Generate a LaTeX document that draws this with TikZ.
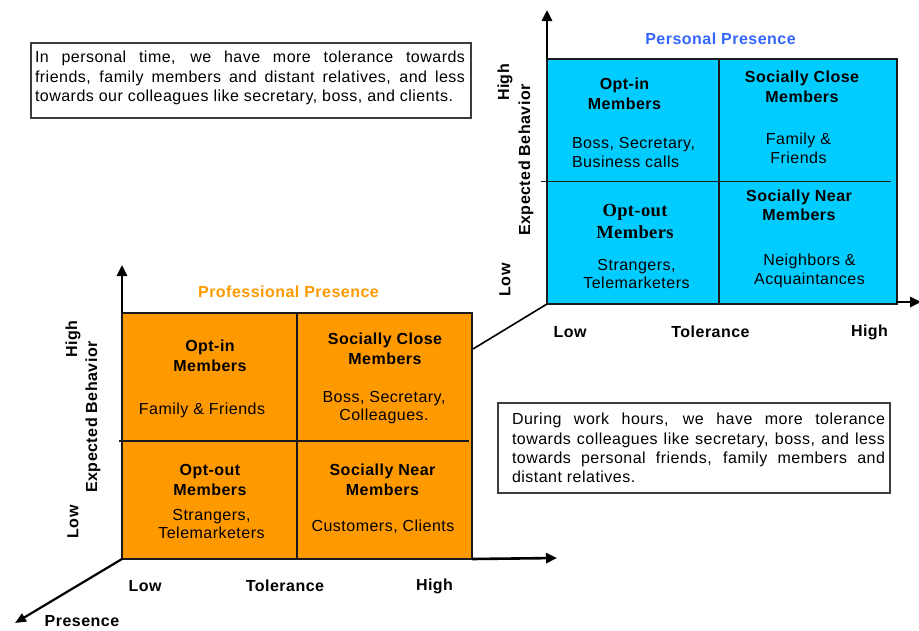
\documentclass[tikz,border=0pt]{standalone}
\usepackage{fontspec}
\setmainfont{Liberation Sans}[LetterSpace=3]
\newfontfamily\serifbold{Liberation Serif}[LetterSpace=2]
\usetikzlibrary{arrows.meta}
\definecolor{proorange}{HTML}{FF9900}
\definecolor{perblue}{HTML}{00CCFF}
\definecolor{pertitle}{HTML}{3366FF}
\definecolor{frame}{HTML}{1A1A1A}

\tikzset{
  quad/.style={draw=frame, line width=1.4pt, inner sep=0pt, outer sep=0pt,
    minimum width=350pt, anchor=north west},
  divider/.style={draw=frame, line width=1.1pt},
  axisline/.style={line width=2.6pt, -{Triangle[length=11pt,width=10pt]}},
  depthline/.style={line width=2.2pt, -{Triangle[length=11pt,width=9pt]}},
  linkline/.style={line width=1.6pt},
  head/.style={font=\fontsize{16}{19.5}\selectfont\bfseries, align=center, inner sep=0pt},
  body/.style={font=\fontsize{16}{18.5}\selectfont, align=center, inner sep=0pt},
  axlabel/.style={font=\fontsize{16}{19}\selectfont\bfseries, inner sep=0pt},
  title/.style={font=\fontsize{16}{19}\selectfont\bfseries, inner sep=0pt},
  note/.style={draw=frame!85, line width=1.1pt, inner sep=0pt, outer sep=0pt},
  notetext/.style={font=\fontsize{16}{19.3}\selectfont, align=justify, inner sep=0pt},
}

\begin{document}
\begin{tikzpicture}[x=1pt, y=-1pt]
\useasboundingbox (0,0) rectangle (919,630);

% ---------- Professional presence (front plane) ----------
\node[quad, fill=proorange, minimum height=246pt] (pro) at (122,313) {};
\draw[divider] (pro.north) -- (pro.south);
\draw[divider] (119,441) -- (469,441);

\coordinate (proUp) at (122,265);
\coordinate (proRight) at (557,558);
\coordinate (depthTip) at (15,623);
\draw[axisline] (pro.north west) -- (proUp);
\draw[axisline] (pro.south east) -- (proRight);
\draw[depthline] (pro.south west) -- (depthTip);

\node[title, text=proorange] (proTitle) at (288.5,292) {Professional Presence};

\node[axlabel, rotate=90] (proHigh) at (73,339) {High};
\node[axlabel, rotate=90] (proExp) at (93,417) {Expected Behavior};
\node[axlabel, rotate=90] (proLow) at (73,522) {Low};
\node[axlabel] (proTlow) at (145,586) {Low};
\node[axlabel] (proTol) at (285,586) {Tolerance};
\node[axlabel] (proThigh) at (434.5,586) {High};
\node[axlabel] (presence) at (82,621) {Presence};

\node[head] (proOptIn) at (210,356) {Opt-in\\Members};
\node[body] (proOptInB) at (202,410) {Family \& Friends};
\node[head] (proClose) at (385,349) {Socially Close\\Members};
\node[body] (proCloseB) at (384,407.5) {Boss, Secretary,\\Colleagues.};
\node[head] (proOptOut) at (210,480) {Opt-out\\Members};
\node[body] (proOptOutB) at (211.5,524) {Strangers,\\Telemarketers};
\node[head] (proNear) at (382.5,480) {Socially Near\\Members};
\node[body] (proNearB) at (383,526.5) {Customers, Clients};

% ---------- Personal presence (back plane) ----------
\node[quad, fill=perblue, minimum height=245pt] (per) at (547,59) {};
\draw[divider] (719,59) -- (719,304);
\draw[divider] (541,181.5) -- (891,181.5);

\coordinate (perUp) at (547,10);
\coordinate (perRight) at (921,302);
\coordinate (link) at (473,349);
\draw[axisline] (per.north west) -- (perUp);
\draw[axisline] (896,302) -- (perRight);
\draw[linkline] (link) -- (per.south west);

\node[title, text=pertitle] (perTitle) at (720.5,38.5) {Personal Presence};

\node[axlabel, rotate=90] (perHigh) at (505,82.5) {High};
\node[axlabel, rotate=90] (perExp) at (526,160) {Expected Behavior};
\node[axlabel, rotate=90] (perLow) at (505,280) {Low};
\node[axlabel] (perTlow) at (570,332) {Low};
\node[axlabel] (perTol) at (710.5,332) {Tolerance};
\node[axlabel] (perThigh) at (869.5,332) {High};

\node[head] (perOptIn) at (624.5,94) {Opt-in\\Members};
\node[body, align=left] (perOptInB) at (633.5,152.5) {Boss, Secretary,\\Business calls};
\node[head] (perClose) at (802,87) {Socially Close\\Members};
\node[body] (perCloseB) at (798.5,148.5) {Family \&\\Friends};
\node[head, font=\fontsize{18.5}{21.6}\selectfont\serifbold\bfseries] (perOptOut) at (635,221.5) {Opt-out\\Members};
\node[body] (perOptOutB) at (636.5,274) {Strangers,\\Telemarketers};
\node[head] (perNear) at (799,205.5) {Socially Near\\Members};
\node[body] (perNearB) at (809.5,271) {Neighbors \&\\Acquaintances};

% ---------- Explanatory notes ----------
\node[note, minimum width=440pt, minimum height=75pt, anchor=north west] (topNote) at (31,43) {};
\node[notetext, text width=430pt] (topText) at (250,78) {In personal time, we have more tolerance towards\linebreak
friends, family members and distant relatives, and less\linebreak
towards our colleagues like secretary, boss, and clients.};

\node[note, minimum width=392pt, minimum height=90pt, anchor=north west] (botNote) at (498,403) {};
\node[notetext, text width=373pt] (botText) at (698.5,448) {During work hours, we have more tolerance\linebreak
towards colleagues like secretary, boss, and less\linebreak
towards personal friends, family members and\linebreak
distant relatives.};
\end{tikzpicture}
\end{document}
